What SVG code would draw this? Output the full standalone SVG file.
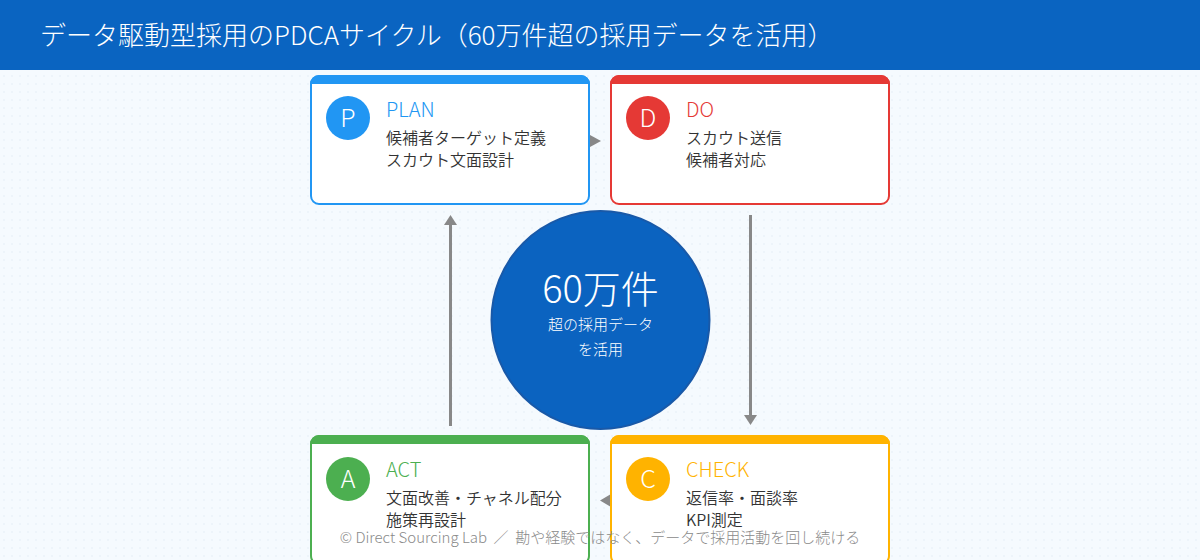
<svg xmlns="http://www.w3.org/2000/svg" width="1200" height="560" viewBox="0 0 1200 560">
<defs>
<pattern id="dots" width="8" height="8" patternUnits="userSpaceOnUse">
<rect width="8" height="8" fill="#F5FAFE"/>
<circle cx="4" cy="4" r="0.8" fill="#E4EEF7"/>
</pattern>
<style>
text{font-family:"Noto Sans CJK JP","Noto Sans",sans-serif;font-weight:300}
.card{fill:#FFFFFF;stroke-width:2}
.lbl{font-size:20px}
.body{font-size:16px;fill:#333333;font-weight:350}
.badge{font-size:25px;fill:#FFFFFF;text-anchor:middle}
.conn{stroke:#888888;stroke-width:3;fill:none}
.head{fill:#888888}
</style>
</defs>
<rect width="1200" height="560" fill="url(#dots)"/>
<g id="header">
<rect x="0" y="0" width="1200" height="70" fill="#0A64C1"/>
<text x="40" y="45" font-size="26" fill="#FFFFFF">データ駆動型採用のPDCAサイクル（60万件超の採用データを活用）</text>
</g>
<g id="connectors">
<polygon class="head" points="590,135 601,141 590,147"/>
<line class="conn" x1="750.5" y1="215" x2="750.5" y2="416"/>
<polygon class="head" points="744,415 757,415 750.5,425"/>
<polygon class="head" points="611,494 600,500.5 611,507"/>
<line class="conn" x1="450.5" y1="224" x2="450.5" y2="426"/>
<polygon class="head" points="444,225 457,225 450.5,215"/>
</g>
<g id="plan">
<rect class="card" x="311" y="76" width="278" height="128" rx="8" stroke="#2196F3"/>
<path d="M310,84 A9,9 0 0 1 319,75 H581 A9,9 0 0 1 590,84 Z" fill="#2196F3"/>
<circle cx="348" cy="118" r="22" fill="#2196F3"/>
<text class="badge" x="348" y="127">P</text>
<text class="lbl" x="386" y="117" fill="#2196F3">PLAN</text>
<text class="body" x="386" y="144">候補者ターゲット定義</text>
<text class="body" x="386" y="166">スカウト文面設計</text>
</g>
<g id="do">
<rect class="card" x="611" y="76" width="278" height="128" rx="8" stroke="#E53935"/>
<path d="M610,84 A9,9 0 0 1 619,75 H881 A9,9 0 0 1 890,84 Z" fill="#E53935"/>
<circle cx="648" cy="118" r="22" fill="#E53935"/>
<text class="badge" x="648" y="127">D</text>
<text class="lbl" x="686" y="117" fill="#E53935">DO</text>
<text class="body" x="686" y="144">スカウト送信</text>
<text class="body" x="686" y="166">候補者対応</text>
</g>
<g id="center">
<circle cx="600.5" cy="320" r="109" fill="#0B63C0" stroke="#1959A8" stroke-width="2"/>
<text x="600.5" y="303" font-size="38" fill="#FFFFFF" text-anchor="middle">60万件</text>
<text x="600.5" y="330" font-size="15" fill="#FFFFFF" text-anchor="middle">超の採用データ</text>
<text x="600.5" y="355" font-size="15" fill="#FFFFFF" text-anchor="middle">を活用</text>
</g>
<g id="act">
<rect class="card" x="311" y="436" width="278" height="128" rx="8" stroke="#4CAF50"/>
<path d="M310,444 A9,9 0 0 1 319,435 H581 A9,9 0 0 1 590,444 Z" fill="#4CAF50"/>
<circle cx="348" cy="479" r="22" fill="#4CAF50"/>
<text class="badge" x="348" y="488">A</text>
<text class="lbl" x="386" y="477" fill="#4CAF50">ACT</text>
<text class="body" x="386" y="504">文面改善・チャネル配分</text>
<text class="body" x="386" y="526">施策再設計</text>
</g>
<g id="check">
<rect class="card" x="611" y="436" width="278" height="128" rx="8" stroke="#FFB300"/>
<path d="M610,444 A9,9 0 0 1 619,435 H881 A9,9 0 0 1 890,444 Z" fill="#FFB300"/>
<circle cx="648" cy="479" r="22" fill="#FFB300"/>
<text class="badge" x="648" y="488">C</text>
<text class="lbl" x="686" y="477" fill="#FFB300">CHECK</text>
<text class="body" x="686" y="504">返信率・面談率</text>
<text class="body" x="686" y="526">KPI測定</text>
</g>
<g id="footer">
<text x="600" y="543" font-size="15" fill="#8A8A8A" text-anchor="middle" xml:space="preserve">© Direct Sourcing Lab  ／  勘や経験ではなく、データで採用活動を回し続ける</text>
</g>
</svg>
